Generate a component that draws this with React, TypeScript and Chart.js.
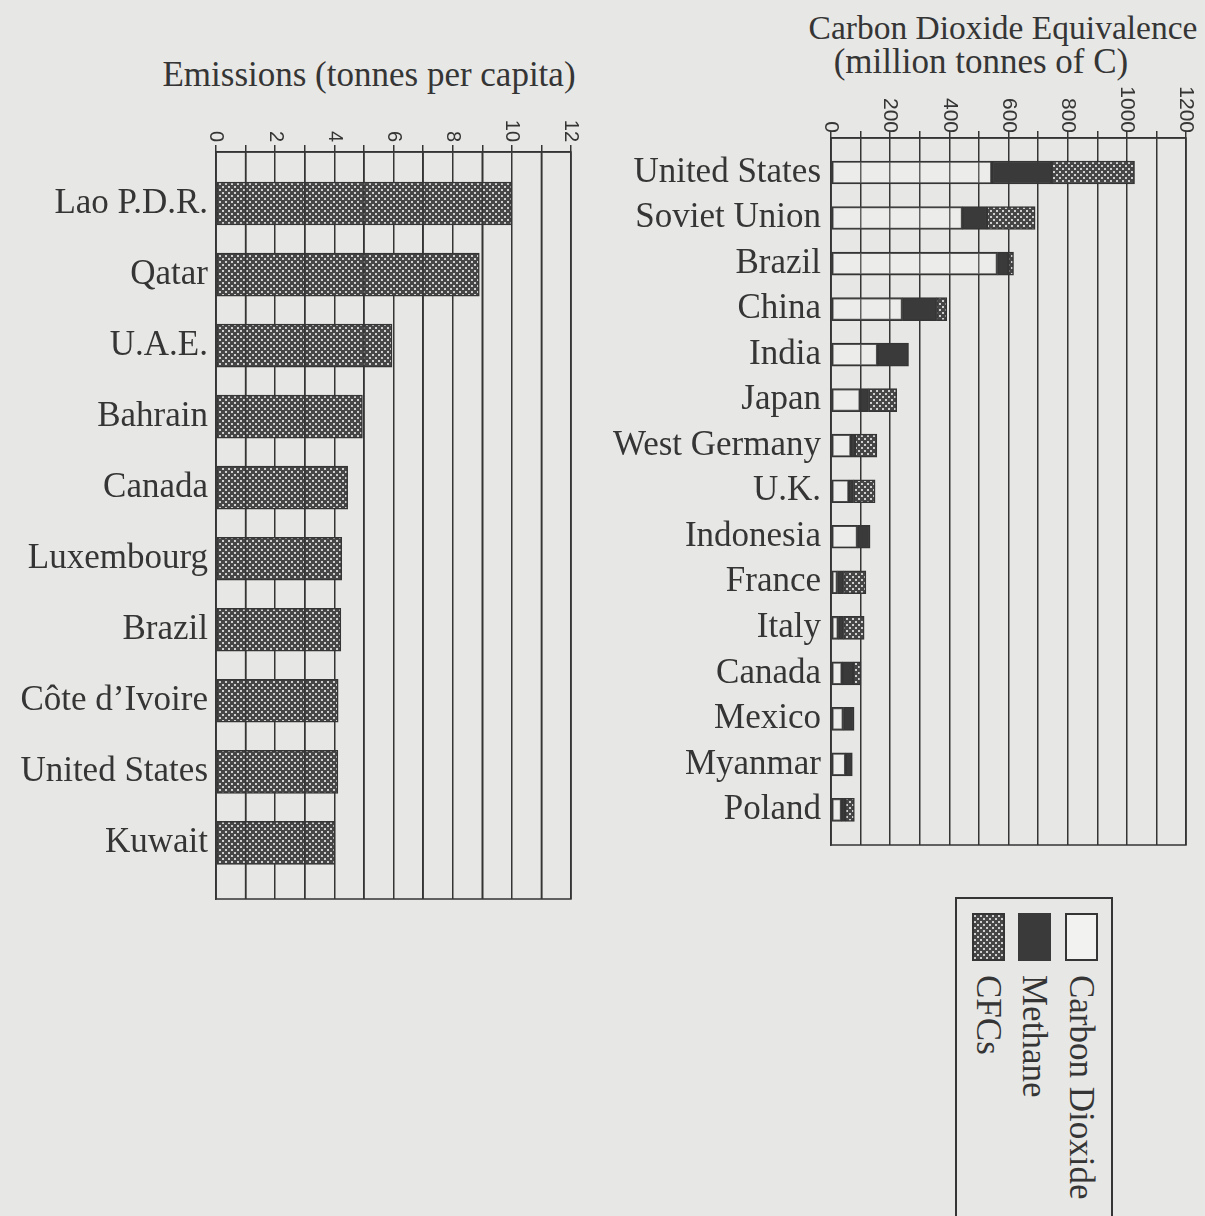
import React, { useEffect, useRef, useMemo } from 'react';
import { Chart, registerables } from 'chart.js';

Chart.register(...registerables);

// ---------- data ----------
const emissionCountries = ['Lao P.D.R.', 'Qatar', 'U.A.E.', 'Bahrain', 'Canada', 'Luxembourg', 'Brazil', 'Côte d’Ivoire', 'United States', 'Kuwait'];
const emissionValues = [10.0, 8.9, 5.95, 4.95, 4.45, 4.25, 4.22, 4.13, 4.12, 4.02];
const emissionTicks = [0, 2, 4, 6, 8, 10, 12];

const equivCountries = ['United States', 'Soviet Union', 'Brazil', 'China', 'India', 'Japan', 'West Germany', 'U.K.', 'Indonesia', 'France', 'Italy', 'Canada', 'Mexico', 'Myanmar', 'Poland'];
const co2Values = [544, 445, 563, 242, 158, 99, 68, 61, 90, 22, 25, 38, 42, 50, 36];
const methaneValues = [202, 82, 37, 115, 104, 28, 13, 15, 42, 20, 17, 37, 36, 22, 12];
const cfcValues = [280, 163, 17, 34, 0, 95, 74, 73, 0, 76, 70, 26, 0, 0, 31];
const equivTicks = [0, 200, 400, 600, 800, 1000, 1200];

const legendLabels = ['Carbon Dioxide', 'Methane', 'CFCs'];

// ---------- style ----------
const PAPER = '#e7e7e5';
const INK = '#353535';
const CO2_FILL = 'rgba(255,255,255,0.22)';
const SERIF = '"Liberation Serif", "Times New Roman", serif';
const SANS = '"Liberation Sans", Arial, sans-serif';

function makePatternCanvas(): HTMLCanvasElement {
  const c = document.createElement('canvas');
  c.width = 6;
  c.height = 6;
  const g = c.getContext('2d')!;
  g.fillStyle = '#464646';
  g.fillRect(0, 0, 6, 6);
  g.fillStyle = '#cfcfcf';
  g.fillRect(0, 0, 2, 2);
  g.fillRect(3, 3, 2, 2);
  return c;
}

function rotatedTicks(values: number[], gap: number, size: number) {
  return {
    id: 'rotatedTicks',
    afterDraw(chart: any) {
      const s = chart.scales.x;
      const ctx = chart.ctx;
      ctx.save();
      ctx.font = `${size}px ${SANS}`;
      ctx.fillStyle = INK;
      ctx.textAlign = 'right';
      ctx.textBaseline = 'middle';
      for (const v of values) {
        const x = s.getPixelForValue(v);
        ctx.save();
        ctx.translate(x, chart.chartArea.top - gap);
        ctx.rotate(Math.PI / 2);
        ctx.fillText(String(v), 0, 0);
        ctx.restore();
      }
      ctx.restore();
    },
  };
}

const framePlugin = {
  id: 'frame',
  afterDraw(chart: any) {
    const { left, top, right, bottom } = chart.chartArea;
    const ctx = chart.ctx;
    ctx.save();
    ctx.strokeStyle = INK;
    ctx.lineWidth = 1.5;
    ctx.strokeRect(left, top, right - left, bottom - top);
    ctx.restore();
  },
};

// odd grid lines show through the bars on the per-capita chart
const oddGridOverPlugin = {
  id: 'oddGridOver',
  afterDatasetsDraw(chart: any) {
    const s = chart.scales.x;
    const { top, bottom } = chart.chartArea;
    const ctx = chart.ctx;
    ctx.save();
    ctx.strokeStyle = INK;
    ctx.lineWidth = 1.5;
    for (const t of s.ticks) {
      if (Math.round(t.value) % 2 === 1) {
        const x = s.getPixelForValue(t.value);
        ctx.beginPath();
        ctx.moveTo(x, top);
        ctx.lineTo(x, bottom);
        ctx.stroke();
      }
    }
    ctx.restore();
  },
};

function fixY(width: number) {
  return (s: any) => {
    s.width = width;
    s.paddingTop = 0;
    s.paddingBottom = 0;
  };
}

function EmissionsChart({ pattern }: { pattern: HTMLCanvasElement }) {
  const ref = useRef<HTMLCanvasElement>(null);
  useEffect(() => {
    const ctx = ref.current!.getContext('2d')!;
    const fill = ctx.createPattern(pattern, 'repeat')!;
    const chart = new Chart(ref.current!, {
      type: 'bar',
      data: {
        datasets: [
          {
            data: emissionValues.map((v, i) => ({ x: v, y: i })),
            backgroundColor: fill,
            borderColor: INK,
            borderWidth: 1.5,
            borderSkipped: false,
            barThickness: 43,
          } as any,
        ],
      },
      options: {
        indexAxis: 'y',
        animation: false,
        responsive: false,
        maintainAspectRatio: false,
        layout: { padding: { left: 0, top: 0, right: 29, bottom: 11 } },
        plugins: { legend: { display: false }, tooltip: { enabled: false } },
        scales: {
          x: {
            type: 'linear',
            position: 'top',
            min: 0,
            max: 12,
            ticks: { stepSize: 1, display: false, maxTicksLimit: 100 },
            grid: { color: INK, lineWidth: 1.5, tickLength: 7, drawTicks: true },
            border: { color: INK, width: 1.5 },
            afterFit: (s: any) => { s.height = 152; s.paddingLeft = 0; s.paddingRight = 0; },
          },
          y: {
            type: 'linear',
            offset: false,
            reverse: true,
            min: -0.725,
            max: 9.79,
            afterBuildTicks: (s: any) => { s.ticks = emissionCountries.map((_, i) => ({ value: i })); },
            ticks: {
              autoSkip: false,
              padding: 8,
              color: INK,
              font: { family: SERIF, size: 35 },
              callback: (v: any) => emissionCountries[v as number],
            },
            grid: { display: false, drawTicks: false, offset: false },
            border: { color: INK, width: 1.5 },
            afterFit: fixY(216),
          },
        },
      } as any,
      plugins: [oddGridOverPlugin, framePlugin, rotatedTicks(emissionTicks, 10, 20)],
    });
    return () => chart.destroy();
  }, [pattern]);
  return <canvas ref={ref} width={600} height={910} style={{ position: 'absolute', left: 0, top: 0 }} />;
}

function EquivalenceChart({ pattern }: { pattern: HTMLCanvasElement }) {
  const ref = useRef<HTMLCanvasElement>(null);
  useEffect(() => {
    const ctx = ref.current!.getContext('2d')!;
    const fill = ctx.createPattern(pattern, 'repeat')!;
    const common = { borderColor: INK, borderWidth: 1.5, borderSkipped: false, barThickness: 23 };
    const chart = new Chart(ref.current!, {
      type: 'bar',
      data: {
        datasets: [
          { label: legendLabels[0], data: co2Values.map((v, i) => ({ x: v, y: i })), backgroundColor: CO2_FILL, ...common } as any,
          { label: legendLabels[1], data: methaneValues.map((v, i) => ({ x: v, y: i })), backgroundColor: '#3a3a3a', ...common } as any,
          { label: legendLabels[2], data: cfcValues.map((v, i) => ({ x: v, y: i })), backgroundColor: fill, ...common } as any,
        ],
      },
      options: {
        indexAxis: 'y',
        animation: false,
        responsive: false,
        maintainAspectRatio: false,
        layout: { padding: { left: 0, top: 0, right: 19, bottom: 15 } },
        plugins: { legend: { display: false }, tooltip: { enabled: false } },
        scales: {
          x: {
            type: 'linear',
            position: 'top',
            stacked: true,
            min: 0,
            max: 1200,
            ticks: { stepSize: 100, display: false, maxTicksLimit: 100 },
            grid: { color: INK, lineWidth: 1.5, tickLength: 7, drawTicks: true },
            border: { color: INK, width: 1.5 },
            afterFit: (s: any) => { s.height = 138; s.paddingLeft = 0; s.paddingRight = 0; },
          },
          y: {
            type: 'linear',
            offset: false,
            stacked: true,
            reverse: true,
            min: -0.758,
            max: 14.77,
            afterBuildTicks: (s: any) => { s.ticks = equivCountries.map((_, i) => ({ value: i })); },
            ticks: {
              autoSkip: false,
              padding: 10,
              color: INK,
              font: { family: SERIF, size: 35 },
              callback: (v: any) => equivCountries[v as number],
            },
            grid: { display: false, drawTicks: false, offset: false },
            border: { color: INK, width: 1.5 },
            afterFit: fixY(231),
          },
        },
      } as any,
      plugins: [framePlugin, rotatedTicks(equivTicks, 5, 21)],
    });
    return () => chart.destroy();
  }, [pattern]);
  return <canvas ref={ref} width={605} height={860} style={{ position: 'absolute', left: 600, top: 0 }} />;
}

function Legend({ patternUrl }: { patternUrl: string }) {
  const swatches: React.CSSProperties[] = [
    { background: 'rgba(255,255,255,0.45)', border: `2px solid ${INK}` },
    { background: '#3a3a3a', border: `2px solid #3a3a3a` },
    { backgroundImage: `url(${patternUrl})`, border: `2px solid ${INK}` },
  ];
  const lefts = [108, 61, 15];
  return (
    <div
      style={{
        position: 'absolute', left: 955, top: 897, width: 158, height: 340,
        border: `2px solid ${INK}`, boxSizing: 'border-box',
      }}
    >
      {legendLabels.map((lab, i) => (
        <React.Fragment key={lab}>
          <div style={{ position: 'absolute', left: lefts[i], top: 14, width: 33, height: 48, boxSizing: 'border-box', ...swatches[i] }} />
          <div
            style={{
              position: 'absolute', left: lefts[i] - 1, top: 76, width: 35,
              writingMode: 'vertical-rl', fontFamily: SERIF, fontSize: 35, lineHeight: '35px',
              color: INK, whiteSpace: 'nowrap',
            }}
          >
            {lab}
          </div>
        </React.Fragment>
      ))}
    </div>
  );
}

export default function App() {
  const pattern = useMemo(() => makePatternCanvas(), []);
  const patternUrl = useMemo(() => pattern.toDataURL(), [pattern]);
  const titleStyle: React.CSSProperties = {
    position: 'absolute', width: 600, textAlign: 'center', fontFamily: SERIF,
    fontSize: 35, lineHeight: '40px', color: INK, whiteSpace: 'nowrap',
  };
  return (
    <div style={{ position: 'absolute', left: 0, top: 0, width: 1205, height: 1216, background: PAPER, overflow: 'hidden' }}>
      <div style={{ ...titleStyle, left: 369 - 300, top: 55 }}>Emissions (tonnes per capita)</div>
      <div style={{ ...titleStyle, left: 1003 - 300, top: 8, fontSize: 33.5 }}>Carbon Dioxide Equivalence</div>
      <div style={{ ...titleStyle, left: 981 - 300, top: 42 }}>(million tonnes of C)</div>
      <EmissionsChart pattern={pattern} />
      <EquivalenceChart pattern={pattern} />
      <Legend patternUrl={patternUrl} />
    </div>
  );
}
